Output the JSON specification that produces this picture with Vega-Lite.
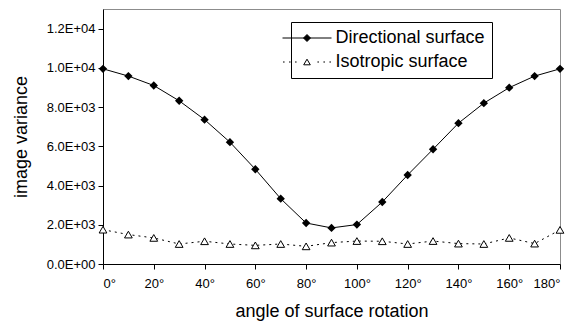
{
  "$schema": "https://vega.github.io/schema/vega-lite/v6.json",
  "width": 457,
  "height": 255,
  "autosize": {"type": "none"},
  "padding": {"left": 103, "top": 9, "right": 19, "bottom": 59},
  "background": "white",
  "config": {
    "view": {"stroke": "#8c8c8c", "strokeWidth": 1},
    "font": "Liberation Sans",
    "axis": {
      "grid": false,
      "domainColor": "black",
      "tickColor": "black",
      "labelColor": "black",
      "titleColor": "black",
      "labelFont": "Liberation Sans",
      "titleFont": "Liberation Sans",
      "labelFontSize": 13,
      "titleFontSize": 18,
      "titleFontWeight": "normal",
      "tickSize": 5
    }
  },
  "data": {
    "values": [
      {"angle": 0, "variance": 9950, "series": "Directional surface"},
      {"angle": 10, "variance": 9580, "series": "Directional surface"},
      {"angle": 20, "variance": 9100, "series": "Directional surface"},
      {"angle": 30, "variance": 8320, "series": "Directional surface"},
      {"angle": 40, "variance": 7360, "series": "Directional surface"},
      {"angle": 50, "variance": 6210, "series": "Directional surface"},
      {"angle": 60, "variance": 4830, "series": "Directional surface"},
      {"angle": 70, "variance": 3330, "series": "Directional surface"},
      {"angle": 80, "variance": 2090, "series": "Directional surface"},
      {"angle": 90, "variance": 1840, "series": "Directional surface"},
      {"angle": 100, "variance": 2010, "series": "Directional surface"},
      {"angle": 110, "variance": 3160, "series": "Directional surface"},
      {"angle": 120, "variance": 4540, "series": "Directional surface"},
      {"angle": 130, "variance": 5850, "series": "Directional surface"},
      {"angle": 140, "variance": 7180, "series": "Directional surface"},
      {"angle": 150, "variance": 8200, "series": "Directional surface"},
      {"angle": 160, "variance": 8990, "series": "Directional surface"},
      {"angle": 170, "variance": 9580, "series": "Directional surface"},
      {"angle": 180, "variance": 9950, "series": "Directional surface"},
      {"angle": 0, "variance": 1750, "series": "Isotropic surface"},
      {"angle": 10, "variance": 1500, "series": "Isotropic surface"},
      {"angle": 20, "variance": 1330, "series": "Isotropic surface"},
      {"angle": 30, "variance": 1020, "series": "Isotropic surface"},
      {"angle": 40, "variance": 1160, "series": "Isotropic surface"},
      {"angle": 50, "variance": 1020, "series": "Isotropic surface"},
      {"angle": 60, "variance": 950, "series": "Isotropic surface"},
      {"angle": 70, "variance": 1020, "series": "Isotropic surface"},
      {"angle": 80, "variance": 900, "series": "Isotropic surface"},
      {"angle": 90, "variance": 1090, "series": "Isotropic surface"},
      {"angle": 100, "variance": 1170, "series": "Isotropic surface"},
      {"angle": 110, "variance": 1160, "series": "Isotropic surface"},
      {"angle": 120, "variance": 1020, "series": "Isotropic surface"},
      {"angle": 130, "variance": 1170, "series": "Isotropic surface"},
      {"angle": 140, "variance": 1040, "series": "Isotropic surface"},
      {"angle": 150, "variance": 1020, "series": "Isotropic surface"},
      {"angle": 160, "variance": 1330, "series": "Isotropic surface"},
      {"angle": 170, "variance": 1040, "series": "Isotropic surface"},
      {"angle": 180, "variance": 1740, "series": "Isotropic surface"}
    ]
  },
  "encoding": {
    "x": {
      "field": "angle",
      "type": "quantitative",
      "scale": {"domain": [0, 180], "nice": false, "zero": false},
      "axis": {
        "values": [0, 20, 40, 60, 80, 100, 120, 140, 160, 180],
        "labelExpr": "datum.value + '°'",
        "labelBaseline": "alphabetic",
        "labelPadding": 18,
        "title": "angle of surface rotation",
        "titleBaseline": "alphabetic",
        "titleY": 52
      }
    },
    "y": {
      "field": "variance",
      "type": "quantitative",
      "scale": {"domain": [0, 13000], "nice": false},
      "axis": {
        "values": [0, 2000, 4000, 6000, 8000, 10000, 12000],
        "labelExpr": "datum.value == 0 ? '0.0E+00' : (datum.value < 10000 ? format(datum.value / 1000, '.1f') + 'E+03' : format(datum.value / 10000, '.1f') + 'E+04')",
        "labelPadding": 3,
        "title": "image variance",
        "titleBaseline": "alphabetic",
        "titleX": -77
      }
    }
  },
  "layer": [
    {
      "transform": [{"filter": "datum.series == 'Directional surface'"}],
      "mark": {"type": "line", "color": "black", "strokeWidth": 1},
      "encoding": {
        "opacity": {
          "field": "series",
          "type": "nominal",
          "scale": {"domain": ["Directional surface", "Isotropic surface"], "range": [1, 1]},
          "legend": {
            "title": null,
            "orient": "none",
            "legendX": 188,
            "legendY": 13,
            "fillColor": "white",
            "strokeColor": "black",
            "padding": 7,
            "rowPadding": 6,
            "symbolSize": 4,
            "symbolOffset": 0,
            "symbolStrokeWidth": 1,
            "symbolStrokeColor": "black",
            "symbolType": {"expr": "datum.value == 'Isotropic surface' ? 'M-31,0M-24,0h1.6M-18,0h1.6M-12,0h1.6M10.4,0h1.6M16.4,0h1.6M22.4,0h1.6M0,-2.8L3.3,2.8L-3.3,2.8Z' : 'M-31,0M-24.5,0H24.5M0,-3.5L3.5,0L0,3.5L-3.5,0Z'"},
            "symbolFillColor": {"expr": "datum.value == 'Isotropic surface' ? 'white' : 'black'"},
            "labelOffset": 19.5,
            "labelFont": "Liberation Sans",
            "labelFontSize": 18,
            "labelColor": "black",
            "labelExpr": "datum.label + '  '"
          }
        }
      }
    },
    {
      "transform": [{"filter": "datum.series == 'Isotropic surface'"}],
      "mark": {"type": "line", "color": "black", "strokeWidth": 1, "strokeDash": [2, 4]}
    },
    {
      "transform": [{"filter": "datum.series == 'Directional surface'"}],
      "mark": {"type": "point", "shape": "diamond", "filled": true, "color": "black", "opacity": 1, "size": 70}
    },
    {
      "transform": [{"filter": "datum.series == 'Isotropic surface'"}],
      "mark": {"type": "point", "shape": "triangle-up", "filled": false, "fill": "white", "stroke": "black", "strokeWidth": 1, "opacity": 1, "size": 60}
    }
  ]
}
